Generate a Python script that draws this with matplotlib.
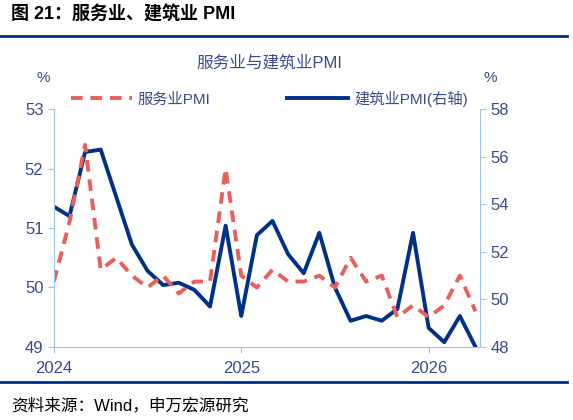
import numpy as np
import matplotlib.pyplot as plt
from matplotlib.lines import Line2D

plt.rcParams['font.family'] = ['Liberation Sans', 'Noto Sans CJK SC', 'DejaVu Sans']

# monthly, Jan 2024 .. Apr 2026
services = [50.1, 51.1, 52.4, 50.3, 50.5, 50.2, 50.0, 50.2, 49.9, 50.1, 50.1, 52.0,
            50.2, 50.0, 50.3, 50.1, 50.1, 50.2, 50.0, 50.5, 50.1, 50.2, 49.5, 49.7,
            49.5, 49.7, 50.2, 49.6]
construction = [53.9, 53.5, 56.2, 56.3, 54.3, 52.3, 51.2, 50.6, 50.7, 50.4, 49.7, 53.1,
                49.3, 52.7, 53.3, 51.9, 51.1, 52.8, 50.5, 49.1, 49.3, 49.1, 49.6, 52.8,
                48.8, 48.2, 49.3, 48.0]
year_ticks = [0, 12, 24]
year_labels = ["2024", "2025", "2026"]

navy = "#003087"
red = "#e8605c"
txt = "#3b4a8c"
spine = "#9dc3e6"

fig = plt.figure(figsize=(5.73, 4.2), dpi=100)
ax = fig.add_axes([0.094, 0.174, 0.744, 0.566])
ax2 = ax.twinx()
x = np.arange(len(services))

ax.plot(x, services, color=red, lw=2.8, ls=(0, (3, 2)), zorder=2)
ax2.plot(x, construction, color=navy, lw=2.8, zorder=3)
ax.set_zorder(ax2.get_zorder() + 1)
ax.patch.set_visible(False)

ax.set_xlim(0, 27.3)
ax.set_ylim(49, 53)
ax2.set_ylim(48, 58)
ax.set_yticks([49, 50, 51, 52, 53])
ax2.set_yticks([48, 50, 52, 54, 56, 58])
ax.set_xticks(year_ticks)
ax.set_xticklabels(year_labels)

for a in (ax, ax2):
    for s in a.spines.values():
        s.set_visible(False)
    a.tick_params(colors=txt, labelsize=12, length=4, color=spine)
    a.tick_params(axis='x', pad=6)
ax.spines['left'].set_visible(True)
ax.spines['left'].set_color(spine)
ax.spines['bottom'].set_visible(True)
ax.spines['bottom'].set_color(spine)
ax2.spines['right'].set_visible(True)
ax2.spines['right'].set_color(spine)

fig.text(0.02, 0.965, "图 21：服务业、建筑业 PMI", fontsize=13, fontweight='bold',
         color='black', va='center')
fig.add_artist(Line2D([0.0, 0.99], [0.915, 0.915], color=navy, lw=2))
fig.text(0.47, 0.85, "服务业与建筑业PMI", fontsize=12, color=txt, ha='center', va='center')
fig.text(0.075, 0.805, "%", fontsize=11, color=txt, ha='center')
fig.text(0.855, 0.805, "%", fontsize=11, color=txt, ha='center')

h1 = Line2D([], [], color=red, lw=2.8, ls=(0, (3, 2)))
h2 = Line2D([], [], color=navy, lw=2.8)
fig.legend([h1, h2], ["服务业PMI", "建筑业PMI(右轴)"], loc='center', ncol=2,
           bbox_to_anchor=(0.47, 0.765), frameon=False, fontsize=11,
           labelcolor=txt, handlelength=4, columnspacing=5, handletextpad=0.4)

fig.add_artist(Line2D([0.0, 0.99], [0.09, 0.09], color=navy, lw=2))
fig.text(0.02, 0.035, "资料来源：Wind，申万宏源研究", fontsize=12, color='black', va='center')

fig.savefig("out.png", dpi=100)
